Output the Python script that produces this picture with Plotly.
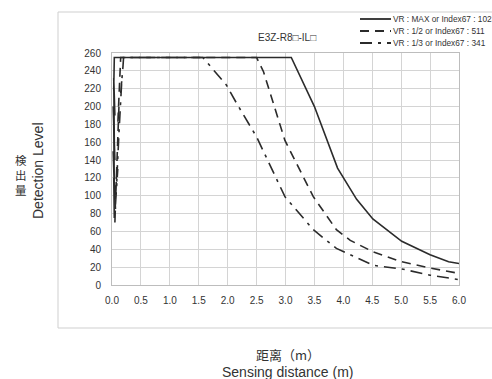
import plotly.graph_objects as go

# Sensing distance (m) vs detection level
max_x = [0.04, 0.03, 0.05, 0.02, 0.04, 0.03, 0.05, 0.02, 0.04, 0.03, 0.05, 0.03, 0.04,
         3.10, 3.50, 3.90, 4.23, 4.51, 5.01, 5.50, 5.82, 6.00]
max_y = [75, 120, 95, 150, 110, 180, 140, 200, 160, 232, 190, 220, 255,
         255, 200, 131, 96, 74, 49, 34, 26, 24]

half_x = [0.06, 0.05, 0.08, 0.07, 0.10, 0.09, 0.12, 0.10, 0.13, 0.12, 0.15,
          2.50, 2.62, 2.99, 3.48, 3.88, 4.12, 4.52, 5.01, 5.50, 6.00]
half_y = [85, 100, 125, 110, 160, 140, 200, 180, 230, 215, 255,
          255, 239, 162, 99, 62, 50, 37, 26, 19, 13]

third_x = [0.05, 0.07, 0.06, 0.10, 0.08, 0.12, 0.14, 0.13, 0.17, 0.15, 0.19, 0.20,
           1.57, 1.98, 2.16, 2.50, 2.99, 3.48, 3.88, 4.52, 5.01, 5.50, 6.00]
third_y = [70, 110, 90, 130, 115, 170, 200, 185, 230, 215, 245, 255,
           255, 224, 203, 166, 99, 62, 41, 22, 18, 11, 6]

series_names = ["VR : MAX or Index67 : 1023", "VR : 1/2 or Index67 : 511", "VR : 1/3 or Index67 : 341"]
dash_styles = ["solid", "9px,6px", "12px,6px,3px,6px"]

x_ticks = [0.0, 0.5, 1.0, 1.5, 2.0, 2.5, 3.0, 3.5, 4.0, 4.5, 5.0, 5.5, 6.0]
y_ticks = list(range(0, 261, 20))

LINE = "#2b2b2b"
GRID = "#d4d4d4"
TXT = "#333333"
FONT = "Liberation Sans, Arial, sans-serif"

fig = go.Figure()
for xs, ys, nm, ds in zip([max_x, half_x, third_x], [max_y, half_y, third_y], series_names, dash_styles):
    fig.add_trace(go.Scatter(x=xs, y=ys, mode="lines", name=nm,
                             line=dict(color=LINE, width=1.6, dash=ds), showlegend=False))

W, H = 492, 379
L, R, T, B = 112, 459, 53, 285
pw, ph = R - L, B - T

def px(x):
    return (x - L) / pw

def py(y):
    return (B - y) / ph

shapes = [
    # outer frame
    dict(type="rect", xref="paper", yref="paper", x0=px(58), x1=px(500), y0=py(328), y1=py(12),
         line=dict(color="#cfcfcf", width=1), fillcolor="rgba(0,0,0,0)", layer="below"),
]
annotations = []
leg_y = [19, 31, 43]
for i, (nm, ds) in enumerate(zip(series_names, dash_styles)):
    shapes.append(dict(type="line", xref="paper", yref="paper", x0=px(360), x1=px(391),
                       y0=py(leg_y[i]), y1=py(leg_y[i]), line=dict(color=LINE, width=1.8, dash=ds)))
    annotations.append(dict(text=nm, xref="paper", yref="paper", x=px(391), y=py(leg_y[i]),
                            xanchor="left", yanchor="middle", showarrow=False,
                            font=dict(size=8.3, color=TXT, family=FONT)))

annotations += [
    dict(text="検<br>出<br>量", xref="paper", yref="paper", x=px(21), y=py(175), xanchor="center",
         yanchor="middle", showarrow=False,
         font=dict(size=11.5, color=TXT, family="Noto Sans CJK JP")),
    dict(text="E3Z-R8□-IL□", xref="paper", yref="paper", x=px(287), y=py(37), xanchor="center",
         yanchor="middle", showarrow=False, font=dict(size=10, color=TXT, family=FONT)),
    dict(text="Detection Level", xref="paper", yref="paper", x=px(38), y=py(171), xanchor="center",
         yanchor="middle", showarrow=False, textangle=-90, font=dict(size=14, color=TXT, family=FONT)),
    dict(text="距离（m）", xref="paper", yref="paper", x=px(288), y=py(354), xanchor="center",
         yanchor="middle", showarrow=False, font=dict(size=13, color=TXT, family="Noto Sans CJK SC")),
    dict(text="Sensing distance (m)", xref="paper", yref="paper", x=px(288), y=py(372), xanchor="center",
         yanchor="middle", showarrow=False, font=dict(size=14, color=TXT, family=FONT)),
]

fig.update_layout(
    width=W, height=H,
    margin=dict(l=L, r=W - R, t=T, b=H - B),
    paper_bgcolor="white", plot_bgcolor="white",
    showlegend=False,
    shapes=shapes, annotations=annotations,
    xaxis=dict(range=[0, 6], tickvals=x_ticks, ticktext=[f"{v:.1f}" for v in x_ticks],
               showgrid=True, gridcolor=GRID, gridwidth=1, zeroline=False,
               showline=True, linecolor="#bdbdbd", linewidth=1, mirror=True,
               ticks="outside", ticklen=6, tickcolor="rgba(0,0,0,0)",
               tickfont=dict(size=10, color=TXT, family=FONT), fixedrange=True),
    yaxis=dict(range=[0, 260], tickvals=y_ticks, showgrid=True, gridcolor=GRID, gridwidth=1,
               zeroline=False, showline=True, linecolor="#bdbdbd", linewidth=1, mirror=True,
               ticks="outside", ticklen=8, tickcolor="rgba(0,0,0,0)",
               tickfont=dict(size=10, color=TXT, family=FONT), fixedrange=True),
)

fig.write_html("out.html", config=dict(displayModeBar=False))
